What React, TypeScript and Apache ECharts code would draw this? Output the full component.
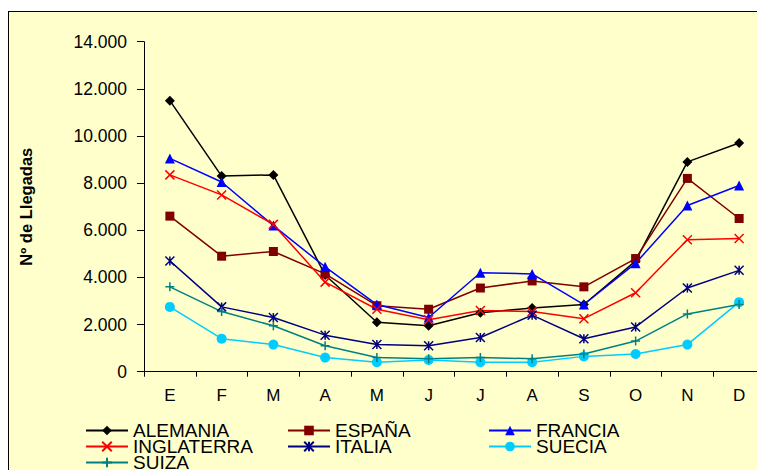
import React, { useEffect, useRef } from "react";
import * as echarts from "echarts";

const months = ["E", "F", "M", "A", "M", "J", "J", "A", "S", "O", "N", "D"];
const alemania = [11500, 8300, 8350, 4100, 2100, 1950, 2500, 2700, 2850, 4700, 8900, 9700];
const espana = [6600, 4900, 5100, 4150, 2800, 2650, 3550, 3850, 3600, 4800, 8200, 6500];
const francia = [9050, 8050, 6200, 4450, 2850, 2300, 4200, 4150, 2850, 4600, 7050, 7900];
const inglaterra = [8350, 7500, 6250, 3800, 2650, 2200, 2600, 2550, 2250, 3350, 5600, 5650];
const italia = [4700, 2750, 2300, 1550, 1150, 1100, 1450, 2400, 1400, 1900, 3550, 4300];
const suecia = [2750, 1400, 1150, 600, 400, 500, 400, 400, 650, 750, 1150, 2950];
const suiza = [3600, 2550, 1950, 1100, 600, 550, 600, 550, 750, 1300, 2450, 2850];

const FONT = "'Liberation Sans', Arial, sans-serif";

const CROSS = "path://M0,0L10,10M10,0L0,10";
const STAR = "path://M5,0L5,10M0,0L10,10M10,0L0,10";
const PLUS = "path://M5,0L5,10M0,5L10,5";

function fmt(v: number): string {
  if (v === 0) return "0";
  const k = Math.floor(v / 1000);
  const r = v % 1000;
  return `${k}.${String(r).padStart(3, "0")}`;
}

function mk(name: string, data: number[], color: string, symbol: string, size: number, stroke: boolean) {
  return {
    name,
    type: "line",
    data,
    symbol,
    symbolSize: size,
    lineStyle: { color, width: 1.5 },
    itemStyle: stroke
      ? { color, borderColor: color, borderWidth: 1.5 }
      : { color, borderWidth: 0 },
  };
}

export default function App() {
  const ref = useRef<HTMLDivElement>(null);
  useEffect(() => {
    if (!ref.current) return;
    const chart = echarts.init(ref.current, undefined, { renderer: "svg" });
    const legendBase = {
      orient: "vertical",
      itemWidth: 42,
      itemHeight: 12,
      itemGap: -3,
      textStyle: { fontFamily: FONT, fontSize: 19, color: "#000" },
      padding: 0,
      selectedMode: false,
    };
    chart.setOption({
      animation: false,
      backgroundColor: "transparent",
      textStyle: { fontFamily: FONT },
      grid: { left: 134, right: 24, top: 29.7, bottom: 500 - 359.7 },
      legend: [
        { ...legendBase, left: 76, top: 409, data: ["ALEMANIA", "INGLATERRA", "SUIZA"] },
        { ...legendBase, left: 278, top: 409, data: ["ESPAÑA", "ITALIA"] },
        { ...legendBase, left: 479, top: 409, data: ["FRANCIA", "SUECIA"] },
      ],
      xAxis: {
        type: "category",
        data: months,
        boundaryGap: true,
        axisLine: { lineStyle: { color: "#000", width: 1 } },
        axisTick: { show: true, length: 5, lineStyle: { color: "#000" } },
        axisLabel: { fontSize: 17, color: "#000", margin: 15, fontFamily: FONT },
      },
      yAxis: {
        type: "value",
        min: 0,
        max: 14000,
        interval: 2000,
        name: "Nº de Llegadas",
        nameLocation: "middle",
        nameGap: 110,
        nameTextStyle: { fontFamily: FONT, fontWeight: "bold", fontSize: 16.5, color: "#000" },
        axisLine: { show: true, lineStyle: { color: "#000", width: 1 } },
        axisTick: { show: true, length: 7, lineStyle: { color: "#000" } },
        axisLabel: { fontSize: 17.5, color: "#000", margin: 17, fontFamily: FONT, formatter: fmt },
        splitLine: { show: false },
      },
      series: [
        mk("ALEMANIA", alemania, "#000000", "diamond", 10, false),
        mk("ESPAÑA", espana, "#800000", "rect", 9, false),
        mk("FRANCIA", francia, "#0000FF", "triangle", 10, false),
        mk("INGLATERRA", inglaterra, "#FF0000", CROSS, 9, true),
        mk("ITALIA", italia, "#000080", STAR, 9, true),
        mk("SUECIA", suecia, "#00CCFF", "circle", 10, false),
        mk("SUIZA", suiza, "#008080", PLUS, 9, true),
      ],
    });
    return () => chart.dispose();
  }, []);
  return (
    <div
      style={{
        position: "fixed",
        left: 8,
        top: 11,
        width: 749,
        height: 459,
        background: "#FFFFCC",
        borderTop: "1px solid #000",
        borderLeft: "1px solid #000",
        boxSizing: "border-box",
        overflow: "hidden",
      }}
    >
      <div ref={ref} style={{ width: 780, height: 500 }} />
    </div>
  );
}
